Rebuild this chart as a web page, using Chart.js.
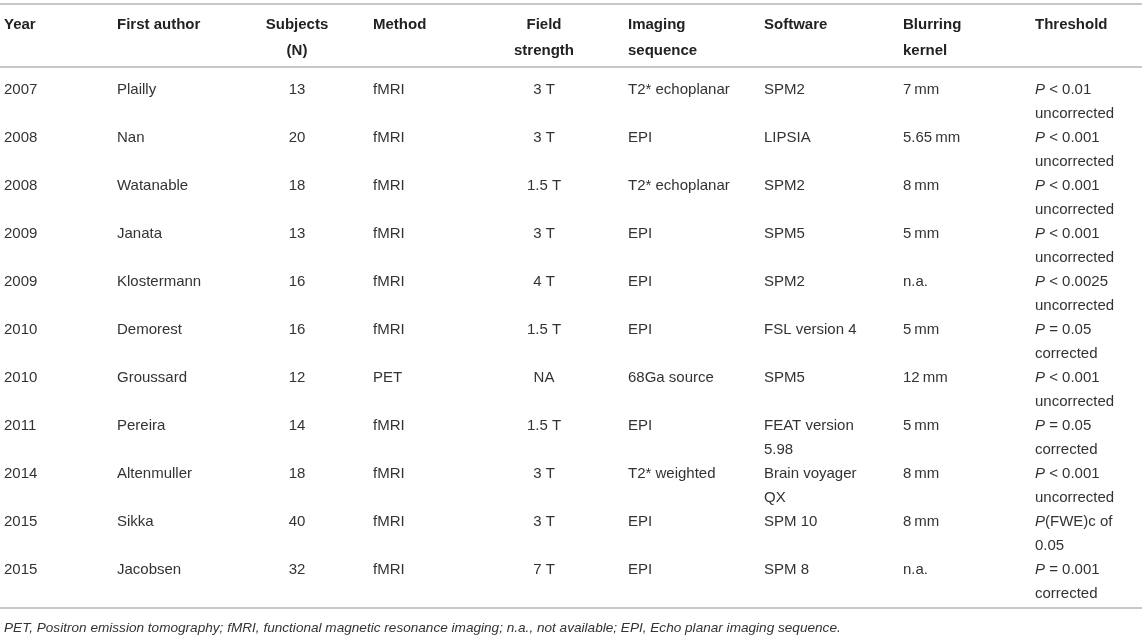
<!DOCTYPE html>
<html lang="en">
<head>
    <meta charset="UTF-8">
    <title>Imaging studies table</title>
    <script src="https://cdn.jsdelivr.net/npm/chart.js"></script>
    <style>
        html, body {
            margin: 0;
            padding: 0;
            background: #fff;
        }
        .chart-container {
            position: relative;
            width: 1145px;
            height: 636px;
        }
    </style>
</head>
<body>
    <div class="chart-container">
        <canvas id="studyTable"></canvas>
    </div>

    <script>
        // Table content, one array per column
        const headers = [
            ['Year'], ['First author'], ['Subjects', '(N)'], ['Method'], ['Field', 'strength'],
            ['Imaging', 'sequence'], ['Software'], ['Blurring', 'kernel'], ['Threshold']
        ];
        const years = ['2007', '2008', '2008', '2009', '2009', '2010', '2010', '2011', '2014', '2015', '2015'];
        const authors = ['Plailly', 'Nan', 'Watanable', 'Janata', 'Klostermann', 'Demorest', 'Groussard',
            'Pereira', 'Altenmuller', 'Sikka', 'Jacobsen'];
        const subjects = [13, 20, 18, 13, 16, 16, 12, 14, 18, 40, 32];
        const methods = ['fMRI', 'fMRI', 'fMRI', 'fMRI', 'fMRI', 'fMRI', 'PET', 'fMRI', 'fMRI', 'fMRI', 'fMRI'];
        const fieldStrength = ['3 T', '3 T', '1.5 T', '3 T', '4 T', '1.5 T', 'NA',
            '1.5 T', '3 T', '3 T', '7 T'];
        const sequences = ['T2* echoplanar', 'EPI', 'T2* echoplanar', 'EPI', 'EPI', 'EPI', '68Ga source',
            'EPI', 'T2* weighted', 'EPI', 'EPI'];
        const software = ['SPM2', 'LIPSIA', 'SPM2', 'SPM5', 'SPM2', 'FSL version 4', 'SPM5',
            'FEAT version\n5.98', 'Brain voyager\nQX', 'SPM 10', 'SPM 8'];
        const kernels = ['7\u2009mm', '5.65\u2009mm', '8\u2009mm', '5\u2009mm', 'n.a.', '5\u2009mm', '12\u2009mm',
            '5\u2009mm', '8\u2009mm', '8\u2009mm', 'n.a.'];
        const thresholdStat = ['< 0.01', '< 0.001', '< 0.001', '< 0.001', '< 0.0025', '= 0.05', '< 0.001',
            '= 0.05', '< 0.001', '(FWE)c of', '= 0.001'];
        const thresholdNote = ['uncorrected', 'uncorrected', 'uncorrected', 'uncorrected', 'uncorrected',
            'corrected', 'uncorrected', 'corrected', 'uncorrected', '0.05', 'corrected'];
        const footnote = 'PET, Positron emission tomography; fMRI, functional magnetic resonance imaging; ' +
            'n.a., not available; EPI, Echo planar imaging sequence.';

        // Layout: column anchor on the x scale and text alignment
        const colX = [4, 117, 297, 373, 544, 628, 764, 903, 1035];
        const colAlign = ['left', 'left', 'center', 'left', 'center', 'left', 'left', 'left', 'left'];

        const FONT = '"Liberation Sans", Arial, Helvetica, sans-serif';
        const TEXT = '#333';
        const RULE = '#b4b4b4';
        const LINE_H = 24;

        const columns = [
            years,
            authors,
            subjects.map(String),
            methods,
            fieldStrength,
            sequences,
            software,
            kernels,
            thresholdStat.map((s, i) => s + '\n' + thresholdNote[i])
        ];

        const datasets = columns.map((col, c) => ({
            label: headers[c].join(' '),
            data: col.map((txt, r) => ({ x: colX[c], y: authors[r], text: txt })),
            pointRadius: 0,
            pointHoverRadius: 0
        }));

        function drawRule(ctx, area, y) {
            ctx.save();
            ctx.strokeStyle = RULE;
            ctx.lineWidth = 1.5;
            ctx.beginPath();
            ctx.moveTo(area.left, y);
            ctx.lineTo(area.right - 3, y);
            ctx.stroke();
            ctx.restore();
        }

        const tablePlugin = {
            id: 'tableText',
            afterDatasetsDraw(chart) {
                const ctx = chart.ctx;
                const area = chart.chartArea;
                const xs = chart.scales.x;

                // rules
                drawRule(ctx, area, area.top - 62);
                drawRule(ctx, area, area.top + 1);
                drawRule(ctx, area, area.bottom + 14);

                ctx.save();
                ctx.textBaseline = 'middle';

                // header
                ctx.fillStyle = '#222';
                ctx.font = 'bold 15px ' + FONT;
                headers.forEach((lines, c) => {
                    ctx.textAlign = colAlign[c];
                    const x = xs.getPixelForValue(colX[c]);
                    lines.forEach((ln, k) => ctx.fillText(ln, x, area.top - 41 + k * 26));
                });

                // body cells
                ctx.fillStyle = TEXT;
                chart.data.datasets.forEach((ds, c) => {
                    const meta = chart.getDatasetMeta(c);
                    meta.data.forEach((pt, r) => {
                        const lines = ds.data[r].text.split('\n');
                        lines.forEach((ln, k) => {
                            const y = pt.y + k * LINE_H;
                            if (c === 8 && k === 0) {
                                // italic P before the statistic
                                ctx.textAlign = 'left';
                                ctx.font = 'italic 15px ' + FONT;
                                ctx.fillText('P', pt.x, y);
                                const w = ctx.measureText('P').width;
                                ctx.font = '15px ' + FONT;
                                const rest = ln.startsWith('(') ? ln : ' ' + ln;
                                ctx.fillText(rest, pt.x + w, y);
                            } else {
                                ctx.textAlign = colAlign[c];
                                ctx.font = '15px ' + FONT;
                                ctx.fillText(ln, pt.x, y);
                            }
                        });
                    });
                });

                // footnote
                ctx.font = 'italic 13.6px ' + FONT;
                ctx.textAlign = 'left';
                ctx.fillText(footnote, xs.getPixelForValue(colX[0]), area.bottom + 34);
                ctx.restore();
            }
        };

        const ctx = document.getElementById('studyTable').getContext('2d');
        const studyTable = new Chart(ctx, {
            type: 'scatter',
            data: { datasets: datasets },
            options: {
                responsive: true,
                maintainAspectRatio: false,
                animation: false,
                events: [],
                layout: { padding: { top: 66, bottom: 42, left: 0, right: 0 } },
                plugins: {
                    legend: { display: false },
                    tooltip: { enabled: false }
                },
                scales: {
                    x: { type: 'linear', min: 0, max: 1145, display: false },
                    y: { type: 'category', labels: authors, offset: true, display: false }
                }
            },
            plugins: [tablePlugin]
        });
    </script>
</body>
</html>
